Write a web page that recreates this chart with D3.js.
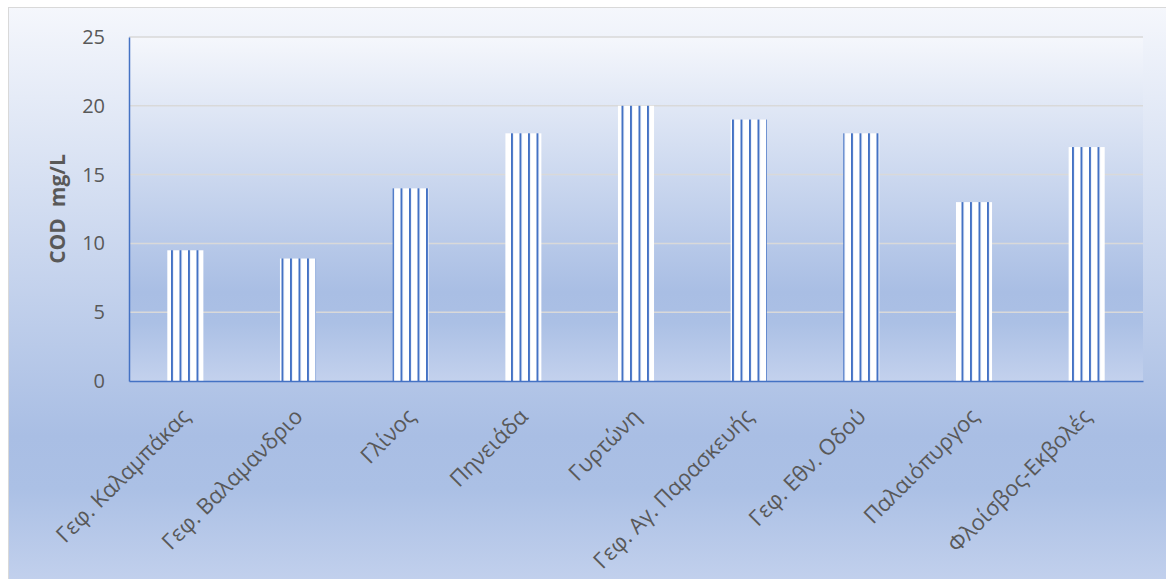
<!DOCTYPE html>
<html>
<head>
<meta charset="utf-8">
<script src="https://cdn.jsdelivr.net/npm/d3@7"></script>
<style>
  body { margin: 0; background: #fff; }
  text { font-family: "Open Sans", sans-serif; fill: #595959; }
</style>
</head>
<body>
<svg id="chart" width="1166" height="579"></svg>
<script>
const categories = ['Γεφ. Καλαμπάκας', 'Γεφ. Βαλαμανδριο', 'Γλίνος', 'Πηνειάδα', 'Γυρτώνη',
	'Γεφ. Αγ. Παρασκευής', 'Γεφ. Εθν. Οδού', 'Παλαιόπυργος', 'Φλοίσβος-Εκβολές'];
const codValues = [9.5, 8.9, 14, 18, 20, 19, 18, 13, 17];
const yTicks = [0, 5, 10, 15, 20, 25];

const W = 1166, H = 579;
const margin = { top: 37, right: 23, bottom: 198, left: 129 };
const innerW = W - margin.left - margin.right;
const innerH = H - margin.top - margin.bottom;

const svg = d3.select('#chart');
const defs = svg.append('defs');

// light gradient, like the office preset
function addGradient(id) {
	const g = defs.append('linearGradient').attr('id', id)
		.attr('x1', 0).attr('y1', 0).attr('x2', 0).attr('y2', 1);
	[[0, '#f5f7fc'], [0.74, '#a9bee4'], [0.83, '#abc0e5'], [1, '#c3d1ed']]
		.forEach(s => g.append('stop').attr('offset', s[0]).attr('stop-color', s[1]));
}
addGradient('chartGrad');
addGradient('plotGrad');

// vertical stripe pattern for bars (page coords)
const pat = defs.append('pattern').attr('id', 'stripes')
	.attr('patternUnits', 'userSpaceOnUse')
	.attr('x', 171).attr('y', 0).attr('width', 8.5).attr('height', 10);
pat.append('rect').attr('width', 8.5).attr('height', 10).attr('fill', '#ffffff');
pat.append('rect').attr('width', 2).attr('height', 10).attr('fill', '#4472c4');

// chart area
svg.append('rect')
	.attr('x', 8.5).attr('y', 7.5).attr('width', W).attr('height', H)
	.attr('fill', 'url(#chartGrad)').attr('stroke', '#d9d9d9').attr('stroke-width', 1);

const x = d3.scaleBand().domain(categories).range([margin.left, margin.left + innerW])
	.paddingInner(0.68).paddingOuter(0.34);
const y = d3.scaleLinear().domain([0, 25]).range([margin.top + innerH, margin.top]);

// plot area
svg.append('rect').attr('x', margin.left).attr('y', margin.top)
	.attr('width', innerW).attr('height', innerH).attr('fill', 'url(#plotGrad)');

// gridlines
svg.append('g').selectAll('line').data(yTicks.filter(d => d > 0)).join('line')
	.attr('x1', margin.left).attr('x2', margin.left + innerW)
	.attr('y1', d => y(d)).attr('y2', d => y(d))
	.attr('stroke', '#d9d9d9').attr('stroke-width', 1.5);

// bars
svg.append('g').selectAll('rect').data(codValues).join('rect')
	.attr('x', (d, i) => x(categories[i]))
	.attr('y', d => y(d))
	.attr('width', x.bandwidth())
	.attr('height', d => y(0) - y(d))
	.attr('fill', 'url(#stripes)');

// y axis
const yAxis = svg.append('g').attr('transform', `translate(${margin.left},0)`)
	.call(d3.axisLeft(y).tickValues(yTicks).tickSize(0).tickPadding(24));
yAxis.select('.domain').attr('stroke', '#4472c4').attr('stroke-width', 1.5);
yAxis.selectAll('text').style('font-size', '20px').attr('fill', '#595959')
	.style('font-family', '"Open Sans", sans-serif');

// x axis
const xAxis = svg.append('g').attr('transform', `translate(0,${y(0)})`)
	.call(d3.axisBottom(x).tickSize(0).tickFormat(''));
xAxis.select('.domain').attr('stroke', '#4472c4').attr('stroke-width', 1.5);

svg.append('g').selectAll('text').data(categories).join('text')
	.attr('transform', d => `translate(${x(d) + x.bandwidth() / 2 + 6},${y(0) + 37}) rotate(-45)`)
	.attr('text-anchor', 'end')
	.style('font-size', '22px')
	.text(d => d);

// y title
svg.append('text')
	.attr('transform', 'translate(65,209) rotate(-90)')
	.attr('text-anchor', 'middle')
	.style('font-size', '21px').style('font-weight', 'bold')
	.attr('xml:space', 'preserve')
	.text('COD  mg/L');
</script>
</body>
</html>
